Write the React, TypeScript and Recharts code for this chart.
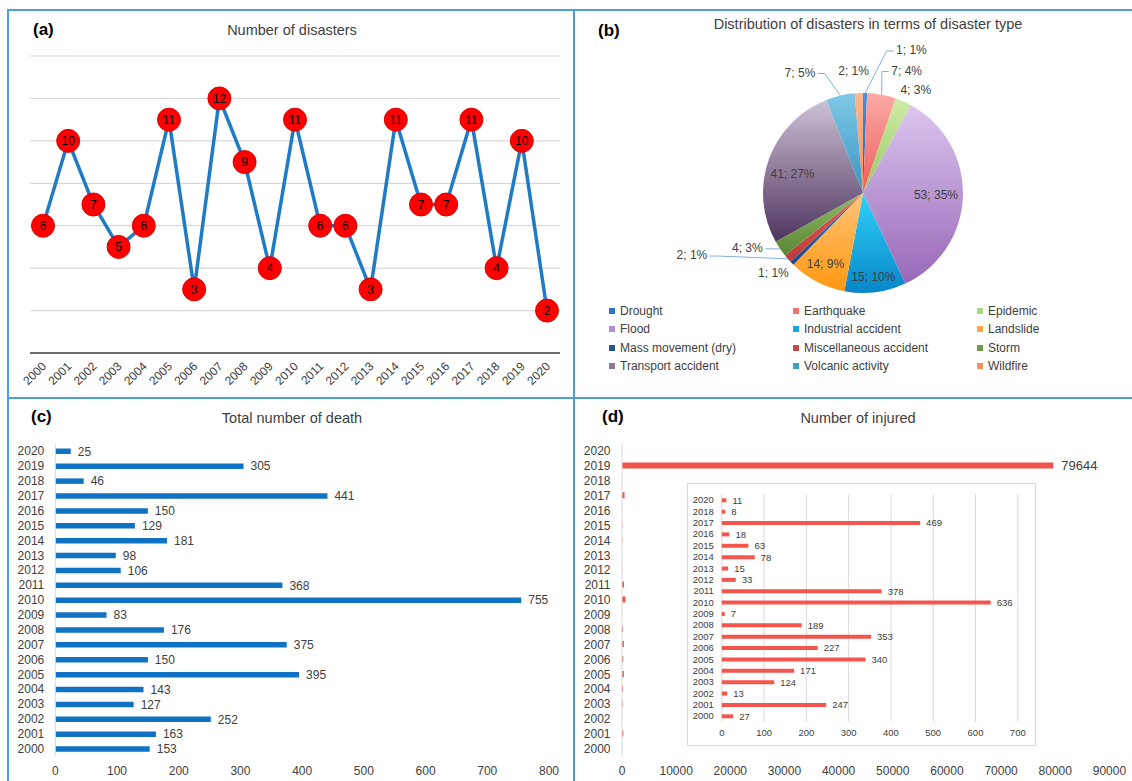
import React from 'react';
import {
  LineChart, Line, XAxis, YAxis, CartesianGrid, LabelList,
  PieChart, Pie, Cell, BarChart, Bar,
} from 'recharts';

// categories
const years = [
  '2000', '2001', '2002', '2003', '2004', '2005', '2006', '2007', '2008', '2009', '2010',
  '2011', '2012', '2013', '2014', '2015', '2016', '2017', '2018', '2019', '2020',
];

// (a) number of disasters per year
const disasterCounts = [6, 10, 7, 5, 6, 11, 3, 12, 9, 4, 11, 6, 6, 3, 11, 7, 7, 11, 4, 10, 2];
const countTicks = [0, 2, 4, 6, 8, 10, 12, 14];

// (b) disaster types
const disasterTypes = [
  'Drought', 'Earthquake', 'Epidemic', 'Flood', 'Industrial accident', 'Landslide',
  'Mass movement (dry)', 'Miscellaneous accident', 'Storm', 'Transport accident',
  'Volcanic activity', 'Wildfire',
];
const typeCounts = [1, 7, 4, 53, 15, 14, 1, 2, 4, 41, 7, 2];
const typePercents = [1, 4, 3, 35, 10, 9, 1, 1, 3, 27, 5, 1];

// (c) deaths, (d) injured
const deaths = [153, 163, 252, 127, 143, 395, 150, 375, 176, 83, 755, 368, 106, 98, 181, 129, 150, 441, 46, 305, 25];
const injured = [27, 247, 13, 124, 171, 340, 227, 353, 189, 7, 636, 378, 33, 15, 78, 63, 18, 469, 8, 79644, 11];
const deathTicks = [0, 100, 200, 300, 400, 500, 600, 700, 800];
const injuredTicks = [0, 10000, 20000, 30000, 40000, 50000, 60000, 70000, 80000, 90000];
const insetTicks = [0, 100, 200, 300, 400, 500, 600, 700];
const insetExcluded = '2019';

// colours for the pie: [top, bottom] of the slice gradient, and the legend swatch
const sliceGradients = [
  ['#4f8fd8', '#1f5fa8'],
  ['#fbaaa4', '#f05c5c'],
  ['#cdeca6', '#98c862'],
  ['#dcc6ee', '#9868b8'],
  ['#30d2f8', '#0785c8'],
  ['#ffc47a', '#ff9810'],
  ['#3272b4', '#1a4c86'],
  ['#e46060', '#bf3838'],
  ['#8fbc64', '#5a8636'],
  ['#cdc2d6', '#4e345e'],
  ['#80c8e6', '#3896c2'],
  ['#fcb690', '#f58c5a'],
];
const legendColors = [
  '#2e75c8', '#f46e6e', '#a8d880', '#b48ad0', '#10a8e8', '#ffa640',
  '#25588f', '#c84848', '#6e9a48', '#8c7a9a', '#3aa0cc', '#f7905a',
];

// label placement for each slice: radius factor, clockwise angle shift, leader line
const pieLabelLayout = [
  { r: 1.51, shift: 17.5, leader: true },
  { r: 1.3, shift: 8.9, leader: true },
  { r: 1.16, shift: 3.2, leader: false },
  { r: 0.73, shift: 0, leader: false },
  { r: 0.84, shift: 0, leader: false },
  { r: 0.8, shift: 0.6, leader: false },
  { r: 1.2, shift: 3, leader: false },
  { r: 1.82, shift: 21.2, leader: true },
  { r: 1.28, shift: 8.6, leader: true },
  { r: 0.73, shift: -4.6, leader: false },
  { r: 1.36, shift: -14.5, leader: true },
  { r: 1.23, shift: -2, leader: false },
];

const lineData = years.map((year, i) => ({ year, count: disasterCounts[i] }));
const pieData = disasterTypes.map((name, i) => ({ name, value: typeCounts[i] }));
const deathData = years.map((year, i) => ({ year, value: deaths[i] }));
const injuredData = years.map((year, i) => ({ year, value: injured[i] }));
const insetData = injuredData.filter((d) => d.year !== insetExcluded);

const FONT = '"Liberation Sans", Arial, sans-serif';
const TEXT = '#404040';
const BORDER = '#4ba0d8';
const RAD = Math.PI / 180;

const RotatedTick = (props: any) => {
  const { x, y, payload } = props;
  const ax = x + 1;
  const ay = y + 3;
  return (
    <text
      x={ax}
      y={ay}
      dy="0.35em"
      textAnchor="end"
      transform={`rotate(-45, ${ax}, ${ay})`}
      fontSize={12}
      fill={TEXT}
    >
      {payload.value}
    </text>
  );
};

const renderPieLabel = (props: any) => {
  const { cx, cy, midAngle, outerRadius, index } = props;
  const lay = pieLabelLayout[index];
  const ang = midAngle - lay.shift;
  const r = outerRadius * lay.r;
  const lx = cx + r * Math.cos(-ang * RAD);
  const ly = cy + r * Math.sin(-ang * RAD);
  const text = `${typeCounts[index]}; ${typePercents[index]}%`;
  let leader = null;
  if (lay.leader) {
    const ex = cx + outerRadius * Math.cos(-midAngle * RAD);
    const ey = cy + outerRadius * Math.sin(-midAngle * RAD);
    const w = text.length * 6.3;
    const side = lx > ex ? -1 : 1;
    const endX = lx + side * (w / 2 + 2);
    const elbowX = endX + side * 7;
    leader = (
      <polyline
        points={`${ex},${ey} ${elbowX},${ly + 1} ${endX},${ly + 1}`}
        fill="none"
        stroke="#7fb1df"
        strokeWidth={1}
      />
    );
  }
  return (
    <g key={`pl-${index}`}>
      {leader}
      <text x={lx} y={ly} dy="0.35em" textAnchor="middle" fontSize={12} fill={TEXT}>
        {text}
      </text>
    </g>
  );
};

const abs = (left: number, top: number): React.CSSProperties => ({ position: 'absolute', left, top });

function Title({ text, cx, cy }: { text: string; cx: number; cy: number }) {
  return (
    <div style={{ ...abs(cx - 250, cy - 9), width: 500, textAlign: 'center', fontSize: 14.5, lineHeight: '18px', color: TEXT }}>
      {text}
    </div>
  );
}

function PanelTag({ text, x, y }: { text: string; x: number; y: number }) {
  return (
    <div style={{ ...abs(x, y - 11), fontSize: 17, fontWeight: 'bold', lineHeight: '22px', color: '#000' }}>
      {text}
    </div>
  );
}

export default function App() {
  return (
    <div style={{ position: 'absolute', left: 0, top: 0, width: 1132, height: 781, background: '#fff', fontFamily: FONT, overflow: 'hidden' }}>
      {/* panel frames */}
      <div style={{ ...abs(7, 9), width: 2, height: 772, background: BORDER }} />
      <div style={{ ...abs(7, 9), width: 1125, height: 2, background: BORDER }} />
      <div style={{ ...abs(573, 9), width: 2, height: 772, background: BORDER }} />
      <div style={{ ...abs(7, 397), width: 1125, height: 2, background: BORDER }} />

      {/* (a) */}
      <div style={abs(0, 0)}>
        <LineChart width={575} height={398} data={lineData} margin={{ top: 56, right: 15, bottom: 0, left: 30 }}>
          <CartesianGrid vertical={false} stroke="#d9d9d9" strokeWidth={1.2} />
          <YAxis hide domain={[0, 14]} ticks={countTicks} />
          <XAxis
            dataKey="year"
            interval={0}
            padding={{ left: 13, right: 13 }}
            tickLine={false}
            axisLine={{ stroke: '#404040', strokeWidth: 1.5 }}
            tick={<RotatedTick />}
            height={45}
          />
          <Line
            type="linear"
            dataKey="count"
            stroke="#1f7bc4"
            strokeWidth={3.5}
            dot={{ r: 11.5, fill: '#ff0000', stroke: '#e00000', strokeWidth: 1 }}
            activeDot={false}
            isAnimationActive={false}
          >
            <LabelList dataKey="count" position="center" fill="#000" fontSize={12} />
          </Line>
        </LineChart>
      </div>
      <PanelTag text="(a)" x={33} y={30} />
      <Title text="Number of disasters" cx={292} cy={30} />

      {/* (b) */}
      <div style={abs(575, 10)}>
        <PieChart width={557} height={290} margin={{ top: 0, right: 0, bottom: 0, left: 0 }}>
          <defs>
            {sliceGradients.map((g, i) => (
              <linearGradient key={i} id={`slice-${i}`} x1="0" y1="0" x2="0" y2="1">
                <stop offset="0%" stopColor={g[0]} />
                <stop offset="100%" stopColor={g[1]} />
              </linearGradient>
            ))}
          </defs>
          <Pie
            data={pieData}
            dataKey="value"
            nameKey="name"
            cx={288}
            cy={183}
            outerRadius={100}
            startAngle={90}
            endAngle={-270}
            stroke="none"
            label={renderPieLabel}
            labelLine={false}
            isAnimationActive={false}
          >
            {pieData.map((d, i) => (
              <Cell key={d.name} fill={`url(#slice-${i})`} />
            ))}
          </Pie>
        </PieChart>
      </div>
      <PanelTag text="(b)" x={598} y={31} />
      <Title text="Distribution of disasters in terms of disaster type" cx={868} cy={24} />
      <div style={{ ...abs(609, 302), display: 'grid', gridTemplateColumns: '184px 184px 184px', gridAutoRows: '18.3px' }}>
        {disasterTypes.map((name, i) => (
          <div key={name} style={{ display: 'flex', alignItems: 'center', fontSize: 12, color: TEXT, whiteSpace: 'nowrap' }}>
            <span style={{ display: 'inline-block', width: 6, height: 6, background: legendColors[i], marginRight: 5 }} />
            {name}
          </div>
        ))}
      </div>

      {/* (c) */}
      <div style={abs(0, 398)}>
        <BarChart
          layout="vertical"
          width={575}
          height={383}
          data={deathData}
          margin={{ top: 45.6, right: 26, bottom: 0, left: 0 }}
        >
          <XAxis
            type="number"
            domain={[0, 800]}
            ticks={deathTicks}
            tickLine={false}
            axisLine={false}
            tick={{ fontSize: 12, fill: TEXT }}
            tickMargin={4}
            height={24.8}
          />
          <YAxis
            type="category"
            dataKey="year"
            reversed
            interval={0}
            width={55.3}
            tickLine={false}
            axisLine={{ stroke: '#d9d9d9' }}
            tick={{ fontSize: 12, fill: TEXT }}
            tickMargin={5}
          />
          <Bar dataKey="value" fill="#0f72c2" barSize={5.5} isAnimationActive={false}>
            <LabelList dataKey="value" position="right" offset={7} fill={TEXT} fontSize={12} />
          </Bar>
        </BarChart>
      </div>
      <PanelTag text="(c)" x={31} y={417} />
      <Title text="Total number of death" cx={292} cy={418} />

      {/* (d) */}
      <div style={abs(575, 398)}>
        <BarChart
          layout="vertical"
          width={557}
          height={383}
          data={injuredData}
          margin={{ top: 45.6, right: 22.6, bottom: 0, left: 0 }}
        >
          <XAxis
            type="number"
            domain={[0, 90000]}
            ticks={injuredTicks}
            tickLine={false}
            axisLine={false}
            tick={{ fontSize: 12, fill: TEXT }}
            tickMargin={4}
            height={24.8}
          />
          <YAxis
            type="category"
            dataKey="year"
            reversed
            interval={0}
            width={47}
            tickLine={false}
            axisLine={{ stroke: '#d9d9d9' }}
            tick={{ fontSize: 12, fill: TEXT }}
            tickMargin={5.5}
          />
          <Bar dataKey="value" fill="#f0554d" barSize={6} isAnimationActive={false}>
            <LabelList
              dataKey="value"
              position="right"
              offset={8}
              fill={TEXT}
              fontSize={13}
              formatter={(v: any) => (Number(v) > 10000 ? v : '')}
            />
          </Bar>
        </BarChart>
      </div>
      <PanelTag text="(d)" x={602} y={417} />
      <Title text="Number of injured" cx={858} cy={418} />

      {/* (d) inset without 2019 */}
      <div style={{ ...abs(686.5, 483.3), width: 349.5, height: 262.7, boxSizing: 'border-box', border: '1px solid #d9d9d9', background: '#fff' }}>
        <div style={abs(-1, -1)}>
          <BarChart
            layout="vertical"
            width={349.5}
            height={262.7}
            data={insetData}
            margin={{ top: 11.3, right: 18.7, bottom: 0, left: 0 }}
          >
            <CartesianGrid horizontal={false} stroke="#d9d9d9" />
            <XAxis
              type="number"
              domain={[0, 700]}
              ticks={insetTicks}
              tickLine={false}
              axisLine={false}
              tick={{ fontSize: 9.5, fill: TEXT }}
              tickMargin={2}
              height={24}
            />
            <YAxis
              type="category"
              dataKey="year"
              reversed
              interval={0}
              width={34.8}
              tickLine={false}
              axisLine={false}
              tick={{ fontSize: 9.5, fill: TEXT }}
              tickMargin={2}
            />
            <Bar dataKey="value" fill="#f4564e" barSize={4} isAnimationActive={false}>
              <LabelList dataKey="value" position="right" offset={6} fill={TEXT} fontSize={9.5} />
            </Bar>
          </BarChart>
        </div>
      </div>
    </div>
  );
}
